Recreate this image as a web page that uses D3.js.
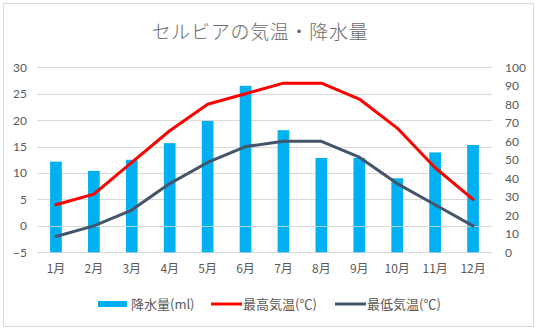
<!DOCTYPE html>
<html>
<head>
<meta charset="utf-8">
<script src="https://cdn.jsdelivr.net/npm/d3@7"></script>
<style>
  body { margin: 0; background: #fff; }
  text { font-family: "Noto Sans CJK JP", "Noto Sans", sans-serif; }
</style>
</head>
<body>
<div id="chart"></div>
<script>
// Monthly climate data
const months = ["1月", "2月", "3月", "4月", "5月", "6月", "7月", "8月", "9月", "10月", "11月", "12月"];
const rain = [49, 44, 50, 59, 71, 90, 66, 51, 51, 40, 54, 58];
const tempHigh = [4, 6, 12, 18, 23, 25, 27, 27, 24, 18.5, 11, 5];
const tempLow = [-2, 0, 3, 8, 12, 15, 16, 16, 13, 8, 4, 0];
const leftTicks = [-5, 0, 5, 10, 15, 20, 25, 30];
const rightTicks = [0, 10, 20, 30, 40, 50, 60, 70, 80, 90, 100];

const width = 540, height = 331;
const plot = { left: 37, right: 492, top: 67.3, bottom: 252.3 };

const svg = d3.select("#chart")
  .append("svg")
  .attr("width", width)
  .attr("height", height);

// chart frame
svg.append("rect")
  .attr("x", 3.5)
  .attr("y", 3.5)
  .attr("width", 530)
  .attr("height", 323)
  .attr("fill", "#fff")
  .attr("stroke", "#d9d9d9");

// title
svg.append("text")
  .attr("x", 260)
  .attr("y", 39)
  .attr("text-anchor", "middle")
  .attr("font-size", "19px")
  .attr("font-weight", 300)
  .attr("letter-spacing", "0.7px")
  .attr("fill", "#6b6b6b")
  .text("セルビアの気温・降水量");

// scales
const x = d3.scaleBand()
  .domain(months)
  .range([plot.left, plot.right]);

const yTemp = d3.scaleLinear()
  .domain([-5, 30])
  .range([plot.bottom, plot.top]);

const yRain = d3.scaleLinear()
  .domain([0, 100])
  .range([plot.bottom, plot.top]);

// gridlines
svg.append("g")
  .selectAll("line")
  .data(leftTicks)
  .enter()
  .append("line")
  .attr("x1", plot.left)
  .attr("x2", plot.right)
  .attr("y1", d => Math.round(yTemp(d)) + 0.5)
  .attr("y2", d => Math.round(yTemp(d)) + 0.5)
  .attr("stroke", "#d9d9d9");

// left axis (temperature)
const leftAxis = svg.append("g")
  .attr("transform", "translate(" + (plot.left - 10) + ",0)")
  .call(d3.axisLeft(yTemp).tickValues(leftTicks).tickSize(0).tickPadding(0));
leftAxis.select(".domain").remove();
leftAxis.selectAll("text")
  .attr("font-size", "12px")
  .attr("fill", "#595959")
  .style("font-family", "Lato, sans-serif");

// right axis (precipitation)
const rightAxis = svg.append("g")
  .attr("transform", "translate(" + (plot.right + 13) + ",0)")
  .call(d3.axisRight(yRain).tickValues(rightTicks).tickSize(0).tickPadding(0));
rightAxis.select(".domain").remove();
rightAxis.selectAll("text")
  .attr("font-size", "12px")
  .attr("fill", "#595959")
  .style("font-family", "Lato, sans-serif");

// month labels
const bottomAxis = svg.append("g")
  .attr("transform", "translate(0," + (plot.bottom + 12) + ")")
  .call(d3.axisBottom(x).tickSize(0).tickPadding(0));
bottomAxis.select(".domain").remove();
bottomAxis.selectAll("text")
  .attr("font-size", "12px")
  .attr("fill", "#595959");

// precipitation bars
const barW = 11.7;
svg.append("g")
  .selectAll("rect")
  .data(rain)
  .enter()
  .append("rect")
  .attr("x", (d, i) => x(months[i]) + x.bandwidth() / 2 - barW / 2)
  .attr("y", d => yRain(d))
  .attr("width", barW)
  .attr("height", d => yRain(0) - yRain(d))
  .attr("fill", "#00b0f0");

// category axis line at 0°C
svg.append("line")
  .attr("x1", plot.left)
  .attr("x2", plot.right)
  .attr("y1", Math.round(yTemp(0)) + 0.5)
  .attr("y2", Math.round(yTemp(0)) + 0.5)
  .attr("stroke", "#d9d9d9")
  .attr("stroke-opacity", 0.8);

// temperature lines
const line = d3.line()
  .x((d, i) => x(months[i]) + x.bandwidth() / 2)
  .y(d => yTemp(d));

svg.append("path")
  .datum(tempHigh)
  .attr("d", line)
  .attr("fill", "none")
  .attr("stroke", "#ff0000")
  .attr("stroke-width", 3)
  .attr("stroke-linejoin", "round")
  .attr("stroke-linecap", "round");

svg.append("path")
  .datum(tempLow)
  .attr("d", line)
  .attr("fill", "none")
  .attr("stroke", "#44546a")
  .attr("stroke-width", 3)
  .attr("stroke-linejoin", "round")
  .attr("stroke-linecap", "round");

// legend
const legendY = 304;
const legendItems = [
  { label: "降水量(ml)", color: "#00b0f0", type: "bar", x: 98 },
  { label: "最高気温(℃)", color: "#ff0000", type: "line", x: 211 },
  { label: "最低気温(℃)", color: "#44546a", type: "line", x: 335 }
];

const legend = svg.selectAll(".legend")
  .data(legendItems)
  .enter()
  .append("g")
  .attr("class", "legend")
  .attr("transform", d => "translate(" + d.x + "," + legendY + ")");

legend.filter(d => d.type === "bar")
  .append("rect")
  .attr("x", 0)
  .attr("y", -3)
  .attr("width", 29)
  .attr("height", 6)
  .attr("fill", d => d.color);

legend.filter(d => d.type === "line")
  .append("line")
  .attr("x1", 0)
  .attr("x2", 31)
  .attr("y1", 0)
  .attr("y2", 0)
  .attr("stroke", d => d.color)
  .attr("stroke-width", 3);

legend.append("text")
  .attr("x", d => d.type === "bar" ? 33 : 32)
  .attr("y", 5)
  .attr("font-size", "13px")
  .attr("fill", "#595959")
  .text(d => d.label);
</script>
</body>
</html>
